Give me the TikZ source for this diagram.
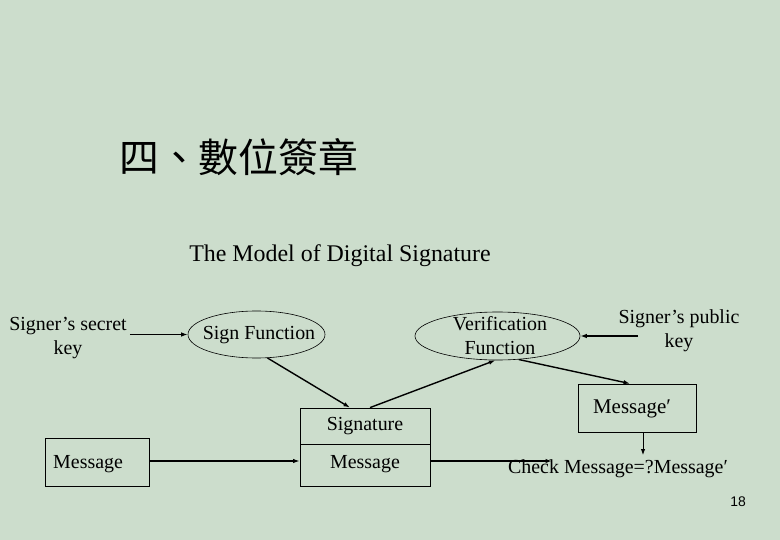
\documentclass[tikz,border=0pt]{standalone}
\usepackage{fontspec}
\setmainfont{Liberation Serif}
\newfontfamily\cjk{Noto Sans CJK TC}
\newfontfamily\pgsans{Liberation Sans}
\usetikzlibrary{shapes.geometric,arrows.meta}
\definecolor{bgc}{RGB}{204,221,204}
\tikzset{
  lbl/.style={font=\fontsize{20}{24}\selectfont, inner sep=1bp, align=center},
  oval/.style={ellipse, draw, line width=0.6bp, inner sep=0pt},
  box/.style={rectangle, draw, line width=0.8bp, inner sep=0pt, font=\fontsize{20}{24}\selectfont},
  arr/.style={-{Latex[length=6.5bp,width=4.5bp]}, line width=1.4bp},
  thinarr/.style={-{Latex[length=6bp,width=4.5bp]}, line width=0.9bp}
}
\begin{document}
\begin{tikzpicture}[x=1bp,y=-1bp]
\fill[bgc] (0,0) rectangle (780,540);
\useasboundingbox (0,0) rectangle (780,540);

\node[font=\cjk\fontsize{40}{44}\selectfont, anchor=west, inner sep=0pt] (title) at (119,157) {四、數位簽章};
\node[lbl, font=\fontsize{24}{28}\selectfont] (sub) at (340,256) {The Model of Digital Signature};

\node[lbl] (sk) at (68,338) {Signer’s secret\\key};
\node[oval, minimum width=137bp, minimum height=47bp] (sf) at (256.5,334.5) {};
\node[lbl] (sft) at (259,335) {Sign Function};
\node[oval, minimum width=165bp, minimum height=48bp] (vf) at (497.5,336) {};
\node[lbl] (vft) at (500,336) {Verification\\Function};
\node[lbl] (pk) at (679,331) {Signer’s public\\key};
\coordinate (pkarr) at (638,336);

\node[box, minimum width=130bp, minimum height=36bp] (sg) at (365,426) {};
\node[lbl] (sgt) at (365,426) {Signature};
\node[box, minimum width=130bp, minimum height=42bp] (sm) at (365,465) {};
\node[lbl] (smt) at (365,464) {Message};
\node[box, minimum width=104bp, minimum height=48bp] (msg) at (97,462) {};
\node[lbl, anchor=west] (msgt) at (52,464) {Message};
\node[box, minimum width=118bp, minimum height=48bp] (mp) at (637,408) {};
\node[lbl, font=\fontsize{21}{24}\selectfont] (mpt) at (632,409) {Message′};
\node[lbl] (ck) at (618,469) {Check Message=?Message′};
\coordinate (ckarr) at (552,461);
\coordinate (ckdown) at (643,455);
\coordinate (m1) at (149,461);
\node[font=\pgsans\fontsize{14}{16}\selectfont, inner sep=0pt] (pg) at (738,502) {18};

\draw[arr] ([xshift=2bp]sk.east |- sf.west) -- (sf.west);
\draw[arr] (pkarr) -- (vf.east);
\draw[arr] (sf.-65) -- ([xshift=-15bp]sg.north);
\draw[arr] ([xshift=5bp]sg.north) -- (vf.-95);
\draw[arr] (vf.-48) -- ([xshift=-7bp]mp.north);
\draw[arr] (msg.east |- m1) -- (sm.west |- m1);
\draw[arr] (sm.east |- m1) -- (ckarr);
\draw[thinarr] (mp.south -| ckdown) -- (ckdown);
\end{tikzpicture}
\end{document}
